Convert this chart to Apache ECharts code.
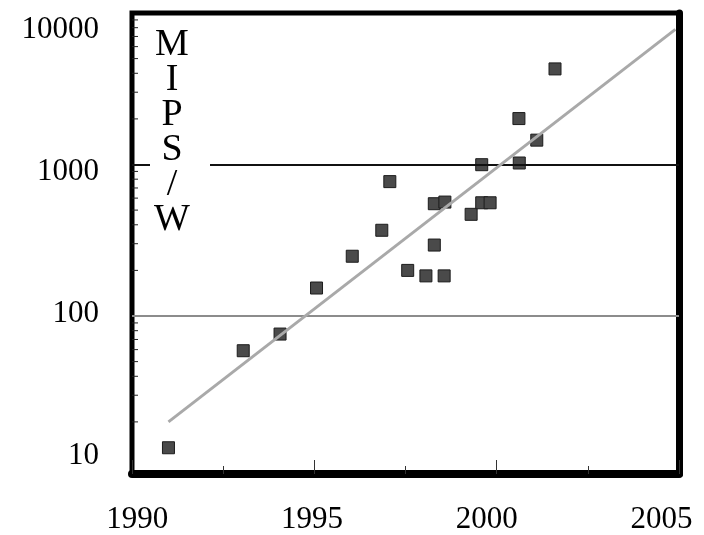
<!DOCTYPE html>
<html><head><meta charset="utf-8">
<script src="https://cdn.jsdelivr.net/npm/echarts@6/dist/echarts.min.js"></script>
<style>html,body{margin:0;padding:0;background:#fff}#c{width:704px;height:535px}</style>
</head><body><div id="c"></div><script>
// data
const years   = [1991.0, 1993.05, 1994.06, 1995.06, 1996.04, 1996.85, 1997.07, 1997.56, 1998.06, 1998.29, 1998.29, 1998.58, 1998.56, 1999.30, 1999.59, 1999.59, 1999.82, 2000.61, 2000.62, 2001.10, 2001.60];
const mipsW   = [13.5,   59,      76,      153,     248,     368,     771,     200,     184,     294,     551,     565,     184,     469,     559,     997,     559,     2010,    1023,    1448,    4275];
const fitYears  = [1991.0, 2004.9];
const fitValues = [20, 7800];
const gridValues = [100, 1000];
const minorTickValues = [20,30,40,50,60,70,80,90,200,300,400,500,600,700,800,900,2000,3000,4000,5000,6000,7000,8000,9000];
const xLabels = [1990, 1995, 2000, 2005];
const yLabels = [10, 100, 1000, 10000];
const axisTitle = 'M\nI\nP\nS\n/\nW';

const FONT = '"Liberation Serif", "Times New Roman", serif';
const chart = echarts.init(document.getElementById('c'), null, {renderer: 'canvas'});
const isPow10 = v => { const l = Math.log10(v); return Math.abs(l - Math.round(l)) < 1e-6; };

chart.setOption({
  animation: false,
  backgroundColor: '#fff',
  grid: {left: 132, right: 25, top: 13, bottom: 58, show: true, borderColor: '#000', borderWidth: 5, backgroundColor: 'transparent'},
  xAxis: [
    {type: 'value', min: 1990, max: 2005, interval: 2.5, position: 'bottom',
     axisLine: {show: true, onZero: false, lineStyle: {color: '#000', width: 8}},
     axisTick: {show: true, inside: true, length: 8, lineStyle: {color: '#333', width: 1}},
     axisLabel: {show: false}, splitLine: {show: false}},
    {type: 'value', min: 1990, max: 2005, interval: 5, position: 'bottom',
     axisLine: {show: false, onZero: false},
     axisTick: {show: true, inside: true, length: 14, lineStyle: {color: '#333', width: 1}},
     axisLabel: {show: false}, splitLine: {show: false}},
    {type: 'value', min: 1989.85, max: 2005.5, position: 'bottom',
     axisLine: {show: false, onZero: false}, axisTick: {show: false}, splitLine: {show: false},
     axisLabel: {show: true, customValues: xLabels, margin: 30, color: '#000', fontFamily: FONT, fontSize: 31,
                 formatter: v => String(Math.round(v))}}
  ],
  yAxis: [
    {type: 'log', logBase: 10, min: 9.06, max: 10000, position: 'left',
     axisLine: {show: false}, axisTick: {show: false}, axisLabel: {show: false}, splitLine: {show: false}},
    {type: 'log', logBase: 10, min: 7.4, max: 13200, position: 'left',
     axisLine: {show: false}, axisTick: {show: false}, splitLine: {show: false},
     axisLabel: {show: true, margin: 33, color: '#000', fontFamily: FONT, fontSize: 31,
                 formatter: v => isPow10(v) && yLabels.indexOf(Math.round(v)) >= 0 ? String(Math.round(v)) : ''}},
    {type: 'log', logBase: 10, min: 9.06, max: 10000, position: 'right',
     axisLine: {show: true, onZero: false, lineStyle: {color: '#000', width: 7}},
     axisTick: {show: false}, axisLabel: {show: false}, splitLine: {show: false}}
  ],
  series: [
    {type: 'line', xAxisIndex: 0, yAxisIndex: 0, data: [], z: 1, silent: true,
     markLine: {silent: true, symbol: 'none', label: {show: false},
       data: [
         {yAxis: gridValues[0], lineStyle: {color: '#8c8c8c', width: 2, type: 'solid'}},
         {yAxis: gridValues[1], lineStyle: {color: '#111', width: 2, type: 'solid'}}
       ]}},
    {type: 'custom', xAxisIndex: 0, yAxisIndex: 0, z: 3, silent: true,
     data: minorTickValues.map(v => [xLabels[0], v]),
     renderItem: (params, api) => {
       const p = api.coord([api.value(0), api.value(1)]);
       return {type: 'line', shape: {x1: p[0], y1: p[1], x2: p[0] + 6, y2: p[1]},
               style: {stroke: '#222', lineWidth: 1}};
     }},
    {type: 'scatter', xAxisIndex: 0, yAxisIndex: 0, z: 4, symbol: 'rect', symbolSize: 12,
     itemStyle: {color: '#4a4a4a', borderColor: '#1c1c1c', borderWidth: 1, opacity: 1},
     data: years.map((y, i) => [y, mipsW[i]])},
    {type: 'line', xAxisIndex: 0, yAxisIndex: 0, z: 5, symbol: 'none', silent: true,
     lineStyle: {color: '#a9a9a9', width: 3},
     data: fitYears.map((y, i) => [y, fitValues[i]])}
  ],
  graphic: [
    {type: 'rect', z: 50, shape: {x: 150, y: 26, width: 60, height: 214}, style: {fill: '#fff'}},
    {type: 'text', z: 51, x: 172, y: 28,
     style: {text: axisTitle, font: '38px ' + FONT, lineHeight: 35, align: 'center', verticalAlign: 'top', fill: '#000'}}
  ]
});
</script></body></html>
